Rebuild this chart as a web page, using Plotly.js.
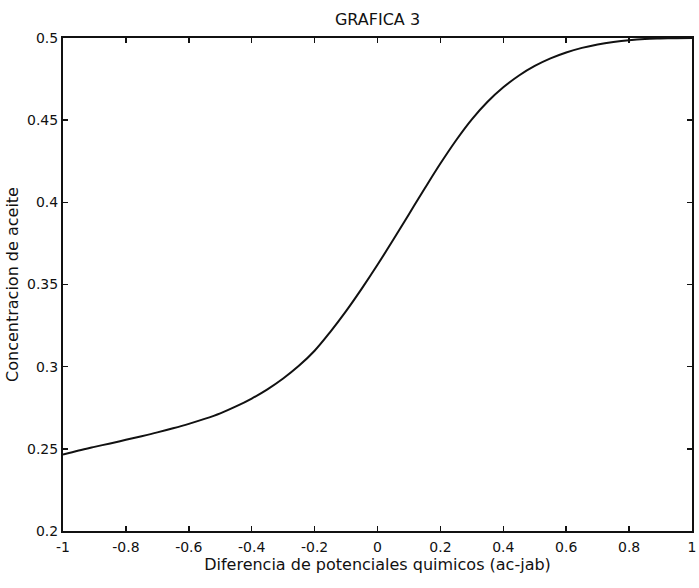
<!DOCTYPE html>
<html>
<head>
<meta charset="utf-8">
<script src="https://cdn.plot.ly/plotly-3.0.1.min.js"></script>
<style>html,body{margin:0;padding:0;background:#fff;}#chart{width:699px;height:588px;}</style>
</head>
<body>
<div id="chart"></div>
<script>
// Data
var potencial = [-1, -0.95, -0.9, -0.85, -0.8, -0.75, -0.7, -0.65, -0.6, -0.55, -0.5, -0.45, -0.4, -0.35, -0.3, -0.25, -0.2, -0.15, -0.1, -0.05, 0, 0.05, 0.1, 0.15, 0.2, 0.25, 0.3, 0.35, 0.4, 0.45, 0.5, 0.55, 0.6, 0.65, 0.7, 0.75, 0.8, 0.85, 0.9, 0.95, 1];
var concentracion = [0.2465, 0.249, 0.2512, 0.2533, 0.2555, 0.2577, 0.26, 0.2625, 0.2652, 0.2682, 0.2716, 0.2758, 0.2806, 0.2862, 0.2928, 0.3005, 0.3097, 0.3212, 0.3338, 0.3475, 0.362, 0.3772, 0.3928, 0.4084, 0.4236, 0.4378, 0.4505, 0.4612, 0.47, 0.4772, 0.483, 0.4876, 0.4912, 0.494, 0.4961, 0.4976, 0.4987, 0.4994, 0.4997, 0.4999, 0.5];
var xTickVals = [-1, -0.8, -0.6, -0.4, -0.2, 0, 0.2, 0.4, 0.6, 0.8, 1];
var xTickText = ["-1", "-0.8", "-0.6", "-0.4", "-0.2", "0", "0.2", "0.4", "0.6", "0.8", "1"];
var yTickVals = [0.2, 0.25, 0.3, 0.35, 0.4, 0.45, 0.5];
var yTickText = ["0.2", "0.25", "0.3", "0.35", "0.4", "0.45", "0.5"];

var font = "DejaVu Sans, Arial, sans-serif";

var trace = {
  x: potencial,
  y: concentracion,
  type: "scatter",
  mode: "lines",
  line: {color: "#111", width: 2, shape: "spline", smoothing: 1},
  hoverinfo: "skip",
  showlegend: false
};

var axisCommon = {
  showgrid: false,
  zeroline: false,
  showline: true,
  linecolor: "#111",
  linewidth: 2,
  mirror: "ticks",
  ticks: "inside",
  ticklen: 5,
  tickwidth: 1.5,
  tickcolor: "#111",
  tickfont: {family: font, size: 14, color: "#111"}
};

var layout = {
  width: 699,
  height: 588,
  margin: {l: 63, r: 7, t: 38, b: 57, pad: 0},
  paper_bgcolor: "#fff",
  plot_bgcolor: "#fff",
  font: {family: font, color: "#111"},
  title: {
    text: "GRAFICA 3",
    font: {family: font, size: 16, color: "#111"},
    x: 0.5, xref: "paper", y: 1, yref: "paper", yanchor: "bottom", pad: {b: 13}
  },
  xaxis: Object.assign({}, axisCommon, {
    range: [-1, 1],
    tickvals: xTickVals,
    ticktext: xTickText,
    ticklabelstandoff: 2,
    title: {text: "Diferencia de potenciales quimicos (ac-jab)", font: {family: font, size: 16, color: "#111"}, standoff: 2}
  }),
  yaxis: Object.assign({}, axisCommon, {
    range: [0.2, 0.5],
    tickvals: yTickVals,
    ticktext: yTickText,
    ticklabelstandoff: 0,
    title: {text: "Concentracion de aceite", font: {family: font, size: 16, color: "#111"}, standoff: 4}
  })
};

Plotly.newPlot("chart", [trace], layout, {displayModeBar: false, staticPlot: true});
</script>
</body>
</html>
